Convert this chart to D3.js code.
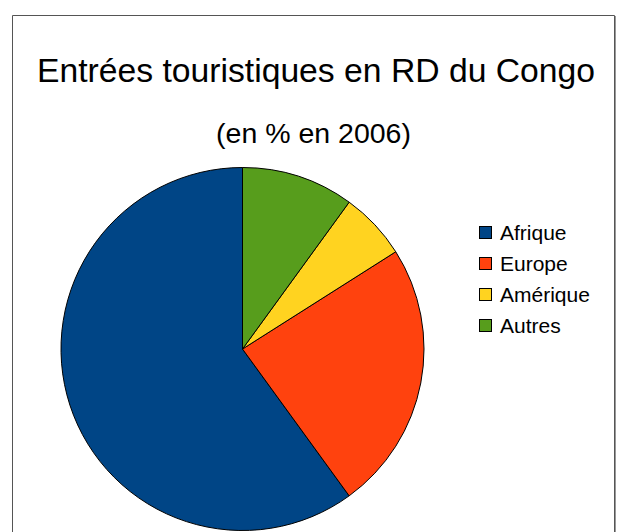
<!DOCTYPE html>
<html><head><meta charset="utf-8">
<script src="https://cdn.jsdelivr.net/npm/d3@7"></script>
<style>html,body{margin:0;padding:0;background:#fff;}</style>
</head><body>
<svg id="c" width="620" height="532"></svg>
<script>
const categories = ["Afrique", "Europe", "Amérique", "Autres"];
const values = [60, 24, 6, 10];
const colors = ["#004586", "#ff420e", "#ffd320", "#579d1c"];
const title = "Entrées touristiques en RD du Congo";
const subtitle = "(en % en 2006)";

const svg = d3.select("#c");
const font = "'Liberation Sans', Arial, sans-serif";

// frame
svg.append("path").attr("d", "M12.5,532 V15.5 H614.5 V532")
  .attr("fill", "none").attr("stroke", "#555").attr("stroke-width", 1);
svg.append("line").attr("x1", 615.5).attr("x2", 615.5).attr("y1", 16).attr("y2", 532)
  .attr("stroke", "#999").attr("stroke-width", 1);

svg.append("text").attr("x", 316).attr("y", 82).attr("text-anchor", "middle")
  .attr("font-family", font).attr("font-size", 33.7).attr("fill", "#000").text(title);
svg.append("text").attr("x", 313.5).attr("y", 143).attr("text-anchor", "middle")
  .attr("font-family", font).attr("font-size", 28.5).attr("fill", "#000").text(subtitle);

const cx = 242.5, cy = 349, r = 181.5;
const pie = d3.pie().sort(null).value(d => d)
  .startAngle(2 * Math.PI).endAngle(0);
const arc = d3.arc().innerRadius(0).outerRadius(r);
const g = svg.append("g").attr("transform", `translate(${cx},${cy})`);
g.selectAll("path").data(pie(values)).join("path")
  .attr("d", arc)
  .attr("fill", (d, i) => colors[i])
  .attr("stroke", "#000").attr("stroke-width", 1).attr("stroke-linejoin", "round");

const color = d3.scaleOrdinal().domain(categories).range(colors);
const ly = d3.scalePoint().domain(categories).range([232.5, 325.5]);
const lg = svg.append("g");
lg.selectAll("rect").data(categories).join("rect")
  .attr("x", 479.5).attr("y", d => ly(d) - 6).attr("width", 12).attr("height", 12)
  .attr("fill", d => color(d)).attr("stroke", "#000").attr("stroke-width", 1);
lg.selectAll("text").data(categories).join("text")
  .attr("x", 500).attr("y", d => ly(d) + 7)
  .attr("font-family", font).attr("font-size", 21).attr("fill", "#000").text(d => d);
</script>
</body></html>
